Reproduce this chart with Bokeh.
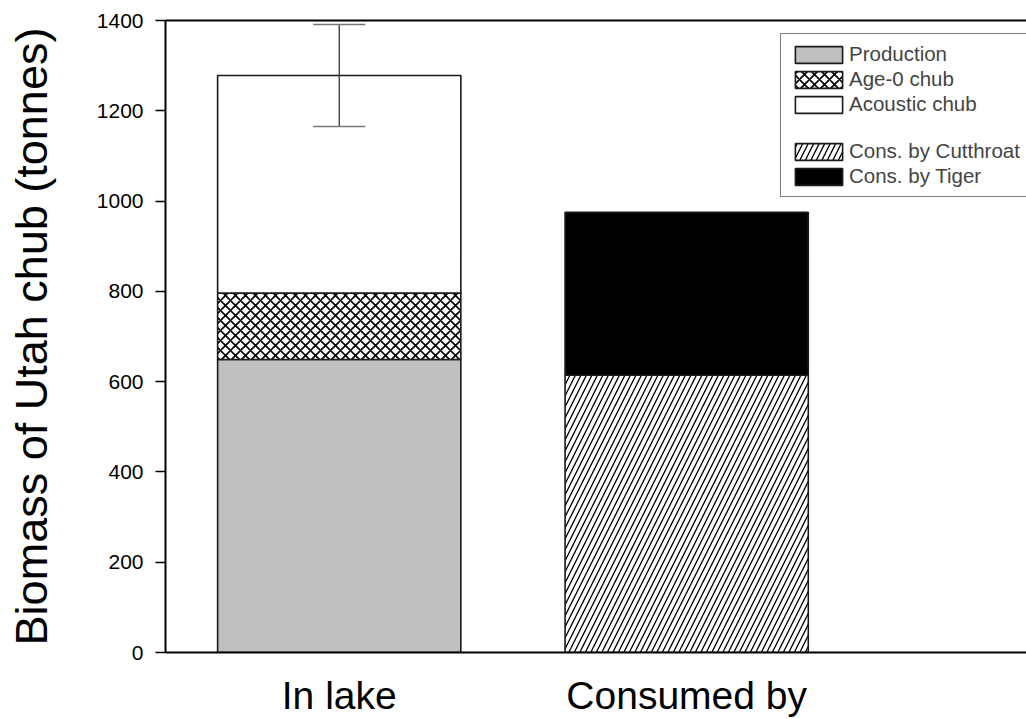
import numpy as np
from bokeh.plotting import figure
from bokeh.models import (Range1d, FixedTicker, LinearAxis, Legend, LegendItem,
                          Whisker, TeeHead, ColumnDataSource)
from bokeh.embed import file_html
from bokeh.resources import INLINE

# ---- data ----
categories = ["In lake", "Consumed by"]
lake_series = ["Production", "Age-0 chub", "Acoustic chub"]
lake_values = [649, 147, 482]
consumed_series = ["Cons. by Cutthroat", "Cons. by Tiger"]
consumed_values = [614, 361]
lake_err_low = [1165]
lake_err_high = [1391]
y_ticks = [0, 200, 400, 600, 800, 1000, 1200, 1400]

FONT = "Liberation Sans"

p = figure(width=1026, height=719, output_backend="svg", toolbar_location=None,
           x_range=Range1d(0.5, 2.978), y_range=Range1d(0, 1400),
           min_border_left=165, min_border_right=0, min_border_top=20,
           min_border_bottom=65)
p.grid.visible = False
p.outline_line_color = None
p.background_fill_color = "white"
p.border_fill_color = "white"

xpos = {c: i + 1 for i, c in enumerate(categories)}
bar_w = 0.70

# In lake stack
lake_styles = [
    dict(fill_color="#c0c0c0"),
    dict(fill_color="white", hatch_pattern="x", hatch_color="black", hatch_scale=10, hatch_weight=1.6),
    dict(fill_color="white"),
]
lake_top = np.cumsum(lake_values)
lake_bottom = np.concatenate([[0], lake_top[:-1]])
renderers = {}
for name, b, t, st in zip(lake_series, lake_bottom, lake_top, lake_styles):
    r = p.vbar(x=[xpos[categories[0]]], bottom=[b], top=[t], width=bar_w,
               line_color="#1a1a1a", line_width=1.6, **st)
    renderers[name] = r

# Consumed stack
cons_styles = [
    dict(fill_color="white", hatch_pattern="/", hatch_color="black", hatch_scale=11, hatch_weight=1.3),
    dict(fill_color="black"),
]
cons_top = np.cumsum(consumed_values)
cons_bottom = np.concatenate([[0], cons_top[:-1]])
for name, b, t, st in zip(consumed_series, cons_bottom, cons_top, cons_styles):
    r = p.vbar(x=[xpos[categories[1]]], bottom=[b], top=[t], width=bar_w,
               line_color="#1a1a1a", line_width=1.6, **st)
    renderers[name] = r

# error bar
src = ColumnDataSource(dict(x=[xpos[categories[0]]], lower=lake_err_low, upper=lake_err_high))
w = Whisker(base="x", lower="lower", upper="upper", source=src, level="annotation",
            line_color="#333333", line_width=1.3,
            upper_head=TeeHead(size=52, line_color="#777777", line_width=1.5),
            lower_head=TeeHead(size=52, line_color="#777777", line_width=1.5))
p.add_layout(w)

# blank spacer for legend
blank = p.vbar(x=[], bottom=[], top=[], width=bar_w, fill_color=None, line_color=None)

items = [LegendItem(label=n, renderers=[renderers[n]]) for n in lake_series]
items.append(LegendItem(label=" ", renderers=[blank]))
items += [LegendItem(label=n, renderers=[renderers[n]]) for n in consumed_series]

legend = Legend(items=items, location=(615, 455), glyph_width=59, glyph_height=21,
                label_height=21, spacing=1, padding=8, label_standoff=1,
                label_text_font=FONT, label_text_font_size="20.5px",
                border_line_color="black", border_line_width=1.5,
                background_fill_color="white", background_fill_alpha=1.0,
                margin=0)
p.add_layout(legend)

# y axis
ya = p.yaxis[0]
ya.ticker = FixedTicker(ticks=y_ticks)
ya.axis_label = "Biomass of Utah chub (tonnes)"
ya.axis_label_text_font = FONT
ya.axis_label_text_font_size = "45px"
ya.axis_label_text_font_style = "normal"
ya.axis_label_text_color = "black"
ya.axis_label_standoff = 37
ya.major_label_text_font = FONT
ya.major_label_text_font_size = "21px"
ya.major_label_text_color = "black"
ya.major_label_standoff = 12
ya.major_tick_out = 10
ya.major_tick_in = 0
ya.minor_tick_out = 0
ya.minor_tick_in = 0
ya.axis_line_width = 2
ya.major_tick_line_width = 1.5
ya.axis_line_color = "black"

# x axis
xa = p.xaxis[0]
xa.ticker = FixedTicker(ticks=[xpos[c] for c in categories])
xa.major_label_overrides = {xpos[c]: c for c in categories}
xa.major_label_text_font = FONT
xa.major_label_text_font_size = "39px"
xa.major_label_text_color = "black"
xa.major_label_standoff = 21
xa.major_tick_out = 0
xa.major_tick_in = 0
xa.minor_tick_out = 0
xa.minor_tick_in = 0
xa.axis_line_width = 2
xa.axis_line_color = "black"

# top frame line
top = LinearAxis(ticker=FixedTicker(ticks=[]), major_label_text_font_size="0px",
                 major_tick_out=0, major_tick_in=0, minor_tick_out=0, minor_tick_in=0,
                 axis_line_width=2, axis_line_color="black")
p.add_layout(top, "above")

open("out.html", "w").write(file_html(p, INLINE))
